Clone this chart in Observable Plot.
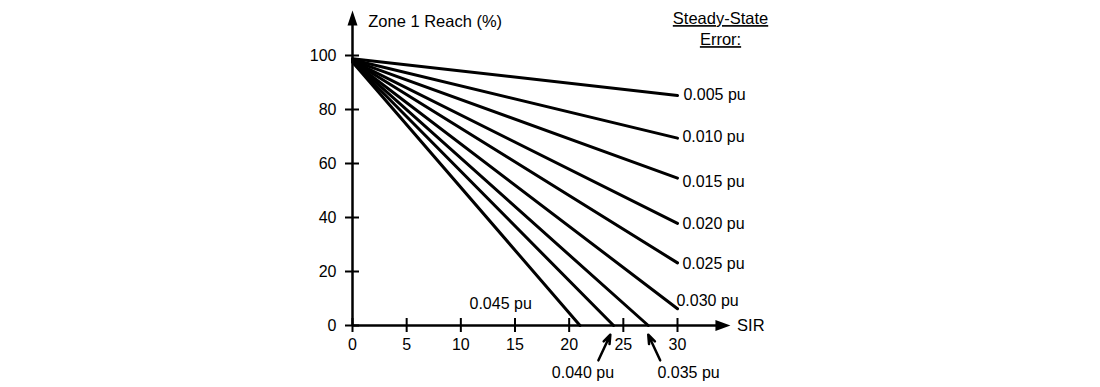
<!DOCTYPE html>
<html>
<head>
<meta charset="utf-8">
<script src="https://cdn.jsdelivr.net/npm/d3@7"></script>
<script src="https://cdn.jsdelivr.net/npm/@observablehq/plot@0.6"></script>
<style>
  html, body { margin: 0; padding: 0; background: #fff; }
  #chart { width: 1100px; height: 387px; }
</style>
</head>
<body>
<div id="chart"></div>
<script>
// ---- data ----
const errors = ["0.005 pu", "0.010 pu", "0.015 pu", "0.020 pu", "0.025 pu", "0.030 pu", "0.035 pu", "0.040 pu", "0.045 pu"];
const startReach = [98.8, 98.4, 98.2, 98, 98, 97.8, 97.8, 97.6, 97.6];
const endSIR = [30, 30, 30, 30, 30, 30, 27.3, 24.1, 21.0];
const endReach = [85.2, 69.4, 54.6, 37.8, 23.2, 6.2, 0, 0, 0];
// label anchor points (data units)
const labelSIR = [30.55, 30.45, 30.45, 30.45, 30.45, 29.9, 28.15, 18.4, 10.8];
const labelReach = [85.3, 69.8, 53.1, 37.8, 23.0, 9.1, -17.6, -17.6, 8.1];
// pointer arrows for the two labels below the axis
const arrowSeries = ["0.040 pu", "0.035 pu"];
const arrowFromSIR = [22.7, 28.4];
const arrowToSIR = [23.8, 27.3];
const arrowFromReach = [-12.9, -12.9];
const arrowToReach = [-3.4, -3.4];

const xTicks = [0, 5, 10, 15, 20, 25, 30];
const yTicks = [0, 20, 40, 60, 80, 100];
const xAxisEnd = 34.9;   // arrow tip of SIR axis
const yAxisEnd = 116.5;  // arrow tip of reach axis

// ---- derived tables ----
const lineRows = errors.flatMap((e, i) => [
  {series: e, sir: 0, reach: startReach[i]},
  {series: e, sir: endSIR[i], reach: endReach[i]}
]);
const labelRows = errors.map((e, i) => ({text: e, sir: labelSIR[i], reach: labelReach[i]}));
const arrowRows = arrowSeries.map((s, i) => ({
  s, x1: arrowFromSIR[i], x2: arrowToSIR[i], y1: arrowFromReach[i], y2: arrowToReach[i]
}));

const headUp = {draw(ctx) { ctx.moveTo(0, -8); ctx.lineTo(5, 7); ctx.lineTo(-5, 7); ctx.closePath(); }};
const headRight = {draw(ctx) { ctx.moveTo(8, 0); ctx.lineTo(-7, 5.5); ctx.lineTo(-7, -5.5); ctx.closePath(); }};

const font = "Arial, 'Liberation Sans', sans-serif";

const chart = Plot.plot({
  width: 1100,
  height: 387,
  marginLeft: 352,
  marginRight: 423,
  marginTop: 55,
  marginBottom: 62,
  style: {fontFamily: font, fontSize: "16px", background: "#fff", color: "#000", overflow: "visible"},
  x: {domain: [0, 30], axis: null},
  y: {domain: [0, 100], axis: null},
  marks: [
    // axis lines
    Plot.ruleY([0], {x1: 0, x2: xAxisEnd - 0.6, stroke: "black", strokeWidth: 2.5}),
    Plot.ruleX([0], {y1: 0, y2: yAxisEnd - 2.5, stroke: "black", strokeWidth: 2.5}),
    Plot.dot([0], {x: xAxisEnd - 0.75, y: 0, symbol: headRight, fill: "black", stroke: "none", r: 6}),
    Plot.dot([0], {x: 0, y: yAxisEnd - 2.8, symbol: headUp, fill: "black", stroke: "none", r: 6}),
    // ticks (crossing the axes)
    Plot.axisY(yTicks, {anchor: "left", tickSize: 7, tickPadding: 9, strokeWidth: 2, fontSize: 16, label: null}),
    Plot.axisY(yTicks, {anchor: "left", tickSize: 7, dx: 7, strokeWidth: 2, tickFormat: () => "", label: null}),
    Plot.axisX(xTicks, {anchor: "bottom", tickSize: 7, tickPadding: 6, strokeWidth: 2, fontSize: 16, label: null}),
    Plot.axisX(xTicks, {anchor: "bottom", tickSize: 7, dy: -7, strokeWidth: 2, tickFormat: () => "", label: null}),
    // series lines
    Plot.line(lineRows, {x: "sir", y: "reach", z: "series", stroke: "black", strokeWidth: 3, strokeLinecap: "round"}),
    // series labels
    Plot.text(labelRows, {x: "sir", y: "reach", text: "text", textAnchor: "start", fontSize: 16, fill: "black"}),
    Plot.arrow(arrowRows, {x1: "x1", y1: "y1", x2: "x2", y2: "y2", stroke: "black", strokeWidth: 2.5, headLength: 8, headAngle: 40, strokeLinejoin: "miter"}),
    // axis titles
    Plot.text(["Zone 1 Reach (%)"], {x: 1.45, y: 112.4, text: d => d, textAnchor: "start", fontSize: 16.5, fill: "black"}),
    Plot.text(["SIR"], {x: 35.5, y: 0, text: d => d, textAnchor: "start", fontSize: 16.5, fill: "black"}),
    Plot.text(["Steady-State", "Error:"], {x: 33.97, y: (d, i) => [113.6, 105.8][i], text: d => d, textAnchor: "middle", fontSize: 16.5, fill: "black"})
  ]
});

d3.select(chart).selectAll("text")
  .filter(function() { const t = this.textContent; return t === "Steady-State" || t === "Error:"; })
  .style("text-decoration", "underline");

document.getElementById("chart").appendChild(chart);
</script>
</body>
</html>
